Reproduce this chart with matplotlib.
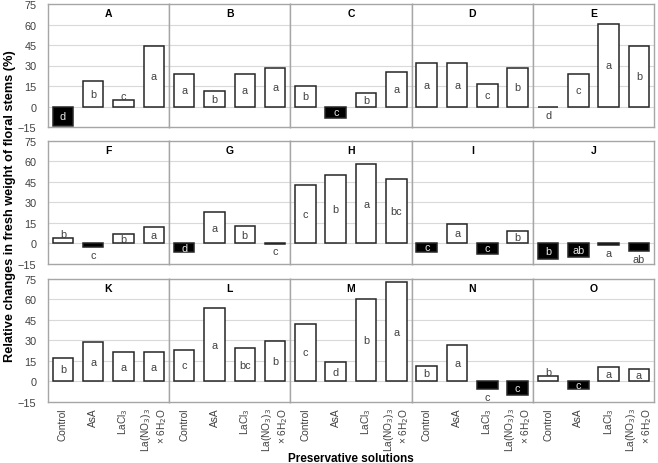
import matplotlib
matplotlib.use("Agg")
import matplotlib.pyplot as plt

plt.rcParams['font.family'] = ['Liberation Sans', 'DejaVu Sans']

treatments = ["Control", "AsA", "LaCl$_3$", "La(NO$_3$)$_3$\n× 6H$_2$O"]
panel_names = list("ABCDEFGHIJKLMNO")

# relative change of fresh weight (%) per panel, order as in treatments
A = [-14.0, 18.3, 4.4, 44.3]
B = [23.9, 11.2, 23.9, 28.5]
C = [14.9, -8.5, 9.7, 25.3]
D = [31.9, 31.9, 16.3, 28.2]
E = [-0.5, 24.1, 60.1, 44.3]
F = [3.6, -2.7, 6.3, 12.1]
G = [-6.8, 22.5, 12.3, -0.3]
H = [42.4, 49.9, 57.6, 46.7]
I = [-6.3, 14.3, -7.7, 8.7]
J = [-11.4, -9.9, -1.3, -6.0]
K = [17.2, 28.4, 21.1, 21.1]
L = [23.1, 53.2, 24.3, 29.1]
M = [42.2, 13.8, 60.0, 72.6]
N = [11.4, 26.2, -5.6, -10.2]
O = [3.6, -5.6, 10.2, 9.2]

# significance letters
A_sig = ["d", "b", "c", "a"]
B_sig = ["a", "b", "a", "a"]
C_sig = ["b", "c", "b", "a"]
D_sig = ["a", "a", "c", "b"]
E_sig = ["d", "c", "a", "b"]
F_sig = ["b", "c", "b", "a"]
G_sig = ["d", "a", "b", "c"]
H_sig = ["c", "b", "a", "bc"]
I_sig = ["c", "a", "c", "b"]
J_sig = ["b", "ab", "a", "ab"]
K_sig = ["b", "a", "a", "a"]
L_sig = ["c", "a", "bc", "b"]
M_sig = ["c", "d", "b", "a"]
N_sig = ["b", "a", "c", "c"]
O_sig = ["b", "c", "a", "a"]

values = [A, B, C, D, E, F, G, H, I, J, K, L, M, N, O]
letters = [A_sig, B_sig, C_sig, D_sig, E_sig, F_sig, G_sig, H_sig, I_sig,
           J_sig, K_sig, L_sig, M_sig, N_sig, O_sig]

# letters that sit outside their (small) bar
outside = {('A', 2): 'above', ('E', 0): 'below', ('F', 0): 'above',
           ('F', 1): 'below', ('G', 3): 'below', ('J', 2): 'below',
           ('J', 3): 'below', ('N', 2): 'below', ('O', 0): 'above'}

W, Hh = 658, 464
fig = plt.figure(figsize=(W / 100, Hh / 100), dpi=100)

left0, pw, ph = 47.7, 121.3, 123.0
row_tops = [5.0, 141.6, 279.7]

frame_col = '#a6a6a6'
grid_col = '#d9d9d9'
text_col = '#404040'

for k, name in enumerate(panel_names):
    r, c = divmod(k, 5)
    ax = fig.add_axes([(left0 + c * pw) / W, 1 - (row_tops[r] + ph) / Hh, pw / W, ph / Hh])
    vals = values[k]
    xs = range(len(vals))
    ax.set_ylim(-15, 75)
    ax.set_xlim(-0.5, 3.5)
    for g in [0, 15, 30, 45, 60]:
        ax.axhline(g, color=grid_col, lw=0.8, zorder=0)
    fills = ['black' if v < 0 else 'white' for v in vals]
    ax.bar(xs, vals, width=0.68, color=fills, edgecolor='#262626', linewidth=1.1, zorder=2)
    for i, v in enumerate(vals):
        pos = outside.get((name, i))
        if pos == 'above':
            y, col = v + 3.4, text_col
        elif pos == 'below':
            y, col = min(v, 0) - 5.8, text_col
        else:
            y, col = v / 2, ('#e6e6e6' if v < 0 else text_col)
        ax.text(i, y, letters[k][i], ha='center', va='center', fontsize=7.8, color=col, zorder=3)
    ax.text(0.5, 0.925, name, transform=ax.transAxes, ha='center', va='center',
            fontsize=7.5, fontweight='bold')
    for s in ax.spines.values():
        s.set_color(frame_col)
        s.set_linewidth(1.0)
    ax.set_yticks([-15, 0, 15, 30, 45, 60, 75])
    if c == 0:
        ax.tick_params(axis='y', length=0, pad=8, labelsize=7.8, labelcolor=text_col)
    else:
        ax.set_yticklabels([])
        ax.tick_params(axis='y', length=0)
    ax.set_xticks(list(xs))
    if r == 2:
        ax.set_xticklabels(treatments, rotation=90, fontsize=7.3, color=text_col,
                           ha='center', va='top', multialignment='right')
        ax.tick_params(axis='x', length=0, pad=4)
    else:
        ax.set_xticklabels([])
        ax.tick_params(axis='x', length=0)

fig.text(351 / W, 1 - 459 / Hh, "Preservative solutions", ha='center', va='center',
         fontsize=8.5, fontweight='bold')
fig.text(10 / W, 1 - 206 / Hh, "Relative changes in fresh weight of floral stems (%)",
         rotation=90, ha='center', va='center', fontsize=9.2, fontweight='bold')

fig.savefig("out.png", dpi=100)
